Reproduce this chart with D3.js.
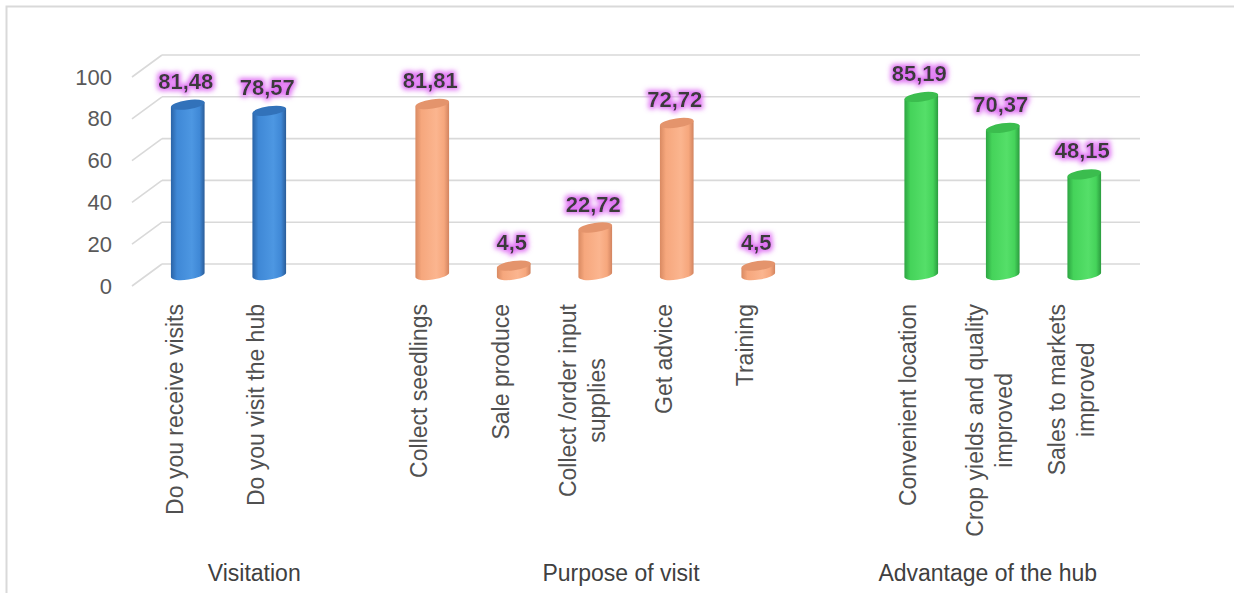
<!DOCTYPE html>
<html>
<head>
<meta charset="utf-8">
<script src="https://cdn.jsdelivr.net/npm/d3@7"></script>
<style>
  html, body { margin: 0; padding: 0; background: #ffffff; }
  svg { display: block; }
</style>
</head>
<body>
<svg id="chart" width="1234" height="593"></svg>
<script>
// Survey results, in percent, one slot per category (blank slots separate the groups)
const categories = [
  "Do you receive visits", "Do you visit the hub", "",
  "Collect seedlings", "Sale produce", "Collect /order input\nsupplies", "Get advice", "Training", "",
  "Convenient location", "Crop yields and quality\nimproved", "Sales to markets\nimproved"
];
const values = [81.48, 78.57, null, 81.81, 4.5, 22.72, 72.72, 4.5, null, 85.19, 70.37, 48.15];
const valueLabels = ["81,48", "78,57", "", "81,81", "4,5", "22,72", "72,72", "4,5", "", "85,19", "70,37", "48,15"];
const groupNames = ["Visitation", "Purpose of visit", "Advantage of the hub"];
const groupSlots = [3, 6, 3];
const yTicks = [0, 20, 40, 60, 80, 100];

const svg = d3.select("#chart");

// back wall of the 3-D plot area and the depth offset towards the viewer
const wall = { left: 162, right: 1140, top: 55, bottom: 264 };
const depth = { dx: -30, dy: 22 };

const x = d3.scaleBand().domain(d3.range(categories.length)).range([wall.left, wall.right]).padding(0);
const y = d3.scaleLinear().domain([0, 100]).range([wall.bottom, wall.top]);

// chart frame
svg.append("rect")
  .attr("x", 6.5).attr("y", 6.5).attr("width", 1240).attr("height", 600)
  .attr("fill", "#ffffff").attr("stroke", "#d9d9d9").attr("stroke-width", 2);

const defs = svg.append("defs");

const palettes = [
  { edgeL: "#2a63a6", mid: "#3f88d6", light: "#4d97e2", edgeR: "#2a5c98", top: "#3272ba" },
  { edgeL: "#d98a62", mid: "#f6a77d", light: "#fbb58f", edgeR: "#d28460", top: "#e4946c" },
  { edgeL: "#2da542", mid: "#45d35a", light: "#55df69", edgeR: "#2b9c3f", top: "#3bbd4e" }
];
palettes.forEach((p, i) => {
  const g = defs.append("linearGradient").attr("id", "cyl" + i)
    .attr("x1", "0").attr("x2", "1").attr("y1", "0").attr("y2", "0");
  [[0, p.edgeL], [0.18, p.mid], [0.62, p.light], [0.85, p.mid], [1, p.edgeR]].forEach(s =>
    g.append("stop").attr("offset", s[0]).attr("stop-color", s[1]));
});

// pink halo behind the value labels
const glow = defs.append("filter").attr("id", "glow")
  .attr("x", "-30%").attr("y", "-50%").attr("width", "160%").attr("height", "200%");
glow.append("feMorphology").attr("in", "SourceAlpha").attr("operator", "dilate").attr("radius", 2).attr("result", "d");
glow.append("feGaussianBlur").attr("in", "d").attr("stdDeviation", 2.6).attr("result", "b");
glow.append("feFlood").attr("flood-color", "#de6cf2").attr("flood-opacity", 0.95).attr("result", "f");
glow.append("feComposite").attr("in", "f").attr("in2", "b").attr("operator", "in").attr("result", "g");
const merge = glow.append("feMerge");
merge.append("feMergeNode").attr("in", "g");
merge.append("feMergeNode").attr("in", "SourceGraphic");

// gridlines: back wall and left side wall
const grid = svg.append("g").attr("stroke", "#d9d9d9").attr("stroke-width", 1.6).attr("fill", "none");
yTicks.forEach(t => {
  grid.append("line").attr("x1", wall.left).attr("x2", wall.right).attr("y1", y(t)).attr("y2", y(t));
  grid.append("line").attr("x1", wall.left).attr("y1", y(t))
    .attr("x2", wall.left + depth.dx).attr("y2", y(t) + depth.dy);
});

// value axis, drawn on the front edge of the side wall
const axis = d3.axisLeft(y).tickValues(yTicks).tickSize(0).tickPadding(20).tickFormat(d3.format("d"));
const axisG = svg.append("g")
  .attr("transform", `translate(${wall.left + depth.dx},${depth.dy})`)
  .call(axis);
axisG.select(".domain").remove();
axisG.selectAll("text")
  .attr("fill", "#595959").style("font-family", "'Liberation Sans', Arial, sans-serif").style("font-size", "22px");

// slot to group lookup
const groupOf = [];
groupSlots.forEach((n, gi) => { for (let k = 0; k < n; k++) groupOf.push(gi); });

// cylinders sit half way into the depth
const rx = 17, ry = 4.6, tilt = -8;
const tr = tilt * Math.PI / 180;
const ex = rx * Math.cos(tr), ey = -rx * Math.sin(tr);
const barX = i => x(i) + x.bandwidth() / 2 + depth.dx / 2;
const barY = v => y(v) + depth.dy / 2;

const bars = svg.append("g");
values.forEach((v, i) => {
  if (v == null) return;
  const cx = barX(i), yt = barY(v), yb = barY(0);
  const gi = groupOf[i];
  bars.append("path")
    .attr("d", `M${cx - ex},${yt + ey} L${cx - ex},${yb + ey} A${rx},${ry} ${tilt} 0 0 ${cx + ex},${yb - ey} L${cx + ex},${yt - ey} Z`)
    .attr("fill", `url(#cyl${gi})`);
  bars.append("ellipse")
    .attr("cx", cx).attr("cy", yt).attr("rx", rx).attr("ry", ry)
    .attr("transform", `rotate(${tilt},${cx},${yt})`)
    .attr("fill", palettes[gi].top);
});

// value labels
svg.append("g").selectAll("text")
  .data(values.map((v, i) => ({ v, i })).filter(d => d.v != null))
  .join("text")
  .attr("x", d => barX(d.i) - 2)
  .attr("y", d => barY(d.v) - 16)
  .attr("text-anchor", "middle")
  .attr("fill", "#3a3a3a")
  .attr("filter", "url(#glow)")
  .style("font-family", "'Liberation Sans', Arial, sans-serif")
  .style("font-size", "22px").style("font-weight", "bold")
  .text(d => valueLabels[d.i]);

// category labels, rotated, centred lines hanging from the axis
const frontX = i => x(i) + x.bandwidth() / 2 + depth.dx;
const labelTop = 304, lineGap = 29;
const catG = svg.append("g");
categories.forEach((c, i) => {
  if (!c) return;
  const lines = c.split("\n");
  const texts = lines.map(line => catG.append("text")
    .attr("text-anchor", "middle")
    .attr("dominant-baseline", "central")
    .attr("fill", "#505050")
    .style("font-family", "'Liberation Sans', Arial, sans-serif")
    .style("font-size", "23px")
    .text(line));
  const maxLen = d3.max(texts, t => t.node().getComputedTextLength());
  const cy = labelTop + maxLen / 2;
  texts.forEach((t, k) => {
    const lx = frontX(i) + 2 + (k - (lines.length - 1) / 2) * lineGap;
    t.attr("transform", `translate(${lx},${cy}) rotate(-90)`);
  });
});

// group labels
let start = 0;
const grpG = svg.append("g");
groupNames.forEach((name, gi) => {
  const first = start, last = start + groupSlots[gi] - 1;
  start += groupSlots[gi];
  const cx = (x(first) + x(last) + x.bandwidth()) / 2 + depth.dx;
  grpG.append("text")
    .attr("x", cx).attr("y", 581)
    .attr("text-anchor", "middle")
    .attr("fill", "#404040")
    .style("font-family", "'Liberation Sans', Arial, sans-serif")
    .style("font-size", "23px")
    .text(name);
});
</script>
</body>
</html>
